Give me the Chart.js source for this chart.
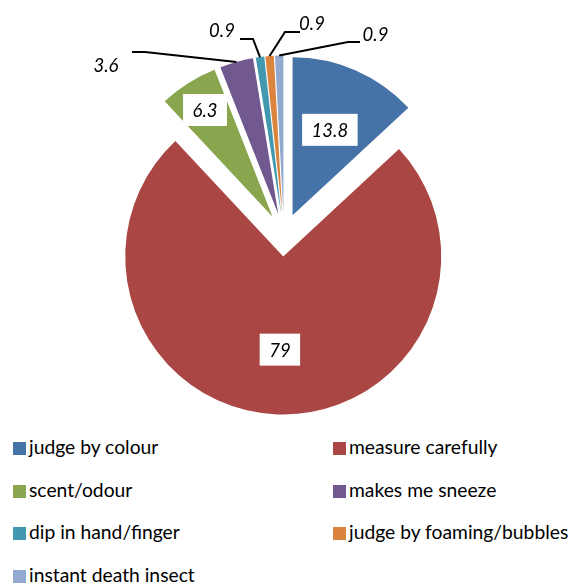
<!DOCTYPE html>
<html>
<head>
<meta charset="utf-8">
<script src="https://cdn.jsdelivr.net/npm/chart.js@4/dist/chart.umd.min.js"></script>
<style>
  html, body { margin: 0; padding: 0; background: #fff; }
  #wrap { position: relative; width: 574px; height: 583px; overflow: hidden; }
  #chart { position: absolute; left: 0; top: 0; }
  .item { position: absolute; font: 19.3px Lato, "Liberation Sans", sans-serif; color: #000; white-space: nowrap; }
  .item i { position: absolute; left: 0; top: 0; width: 13px; height: 13px; }
  .item span { position: absolute; left: 16px; top: -7px; }
</style>
</head>
<body>
<div id="wrap">
  <canvas id="chart" width="574" height="430"></canvas>
  <div id="legend"></div>
</div>
<script>
// categories and values
const categories = ['judge by colour', 'measure carefully', 'scent/odour', 'makes me sneeze',
                    'dip in hand/finger', 'judge by foaming/bubbles', 'instant death insect'];
const values = [13.8, 79, 6.3, 3.6, 0.9, 0.9, 0.9];
const valueLabels = ['13.8', '79', '6.3', '3.6', '0.9', '0.9', '0.9'];
const colors = ['#4572A7', '#AA4643', '#89A54E', '#71588F', '#4198AF', '#DB843D', '#93A9CF'];

const RADIUS = 158;  // pie radius in px
const SHIFT = 21.5;  // how far every slice is pulled out of the pie

// labels drawn inside their slice: fraction of the radius, null = callout
const insideAt = [0.59, 0.59, 0.8, null, null, null, null];
// callouts: text centre, elbow and end of the leader line, relative to the pie centre
const callouts = {
    3: { text: [-178, -169], elbow: [-139, -183], end: [-152, -183] },
    4: { text: [-62, -204], elbow: [-31, -196], end: [-44, -196] },
    5: { text: [28, -210.5], elbow: [1, -203], end: [16, -203] },
    6: { text: [91.5, -200], elbow: [64, -193], end: [76, -193] }
};

const labelFont = 'italic 18.5px Lato, "Liberation Sans", sans-serif';

// the built-in offset eats into thin slices, so explode the slices with a plain translate instead
class ExplodedArc extends Chart.ArcElement {
    static id = 'explodedArc';
    draw(ctx) {
        const mid = (this.startAngle + this.endAngle) / 2;
        ctx.save();
        ctx.translate(Math.cos(mid) * SHIFT, Math.sin(mid) * SHIFT);
        super.draw(ctx);
        ctx.restore();
    }
}
class ExplodedPie extends Chart.PieController {
    static id = 'explodedPie';
    static defaults = { ...Chart.PieController.defaults, dataElementType: 'explodedArc' };
}
Chart.register(ExplodedArc, ExplodedPie);

const sliceLabels = {
    id: 'sliceLabels',
    afterDatasetsDraw(chart) {
        const { ctx } = chart;
        const arcs = chart.getDatasetMeta(0).data;
        ctx.save();
        ctx.font = labelFont;
        ctx.textAlign = 'center';
        ctx.textBaseline = 'middle';
        arcs.forEach((arc, i) => {
            const mid = (arc.startAngle + arc.endAngle) / 2;
            const cx = arc.x + Math.cos(mid) * SHIFT;
            const cy = arc.y + Math.sin(mid) * SHIFT;
            const r0 = arc.outerRadius;
            const txt = valueLabels[i];

            if (insideAt[i] !== null) {
                const lx = cx + Math.cos(mid) * r0 * insideAt[i];
                const ly = cy + Math.sin(mid) * r0 * insideAt[i];
                const w = ctx.measureText(txt).width + 19;
                ctx.fillStyle = '#fff';
                ctx.fillRect(lx - w / 2, ly - 16, w, 32);
                ctx.fillStyle = '#000';
                ctx.fillText(txt, lx, ly + 1);
                return;
            }

            const c = callouts[i];
            ctx.strokeStyle = '#000';
            ctx.lineWidth = 2;
            ctx.beginPath();
            ctx.moveTo(cx + Math.cos(mid) * r0, cy + Math.sin(mid) * r0);
            ctx.lineTo(arc.x + c.elbow[0], arc.y + c.elbow[1]);
            ctx.lineTo(arc.x + c.end[0], arc.y + c.end[1]);
            ctx.stroke();
            ctx.fillStyle = '#000';
            ctx.fillText(txt, arc.x + c.text[0], arc.y + c.text[1]);
        });
        ctx.restore();
    }
};

new Chart(document.getElementById('chart'), {
    type: 'explodedPie',
    data: {
        labels: categories,
        datasets: [{
            data: values,
            backgroundColor: colors,
            borderWidth: 0,
            hoverOffset: 0,
            radius: RADIUS
        }]
    },
    options: {
        responsive: false,
        animation: false,
        events: [],
        layout: { padding: { top: 43, bottom: 3, left: 0, right: 6 } },
        plugins: {
            legend: { display: false },
            tooltip: { enabled: false }
        }
    },
    plugins: [sliceLabels]
});

// legend in two columns underneath
const legend = document.getElementById('legend');
categories.forEach((name, i) => {
    const item = document.createElement('div');
    item.className = 'item';
    item.style.left = (i % 2 ? 333 : 13) + 'px';
    item.style.top = (442 + Math.floor(i / 2) * 42.5) + 'px';
    item.innerHTML = '<i style="background:' + colors[i] + '"></i><span>' + name + '</span>';
    legend.appendChild(item);
});
</script>
</body>
</html>
